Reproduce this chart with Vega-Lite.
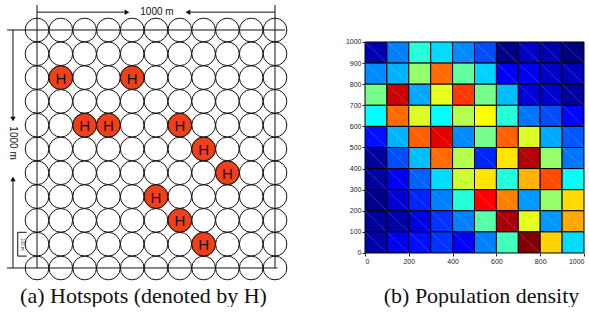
{
  "$schema": "https://vega.github.io/schema/vega-lite/v6.json",
  "padding": 0,
  "background": "white",
  "spacing": 50,
  "config": {"view": {"stroke": null}},
  "datasets": {
    "circles": [
      {"x":0,"y":0},{"x":100,"y":0},{"x":200,"y":0},{"x":300,"y":0},{"x":400,"y":0},{"x":500,"y":0},{"x":600,"y":0},{"x":700,"y":0},{"x":800,"y":0},{"x":900,"y":0},{"x":1000,"y":0},
      {"x":0,"y":100},{"x":100,"y":100},{"x":200,"y":100},{"x":300,"y":100},{"x":400,"y":100},{"x":500,"y":100},{"x":600,"y":100},{"x":700,"y":100},{"x":800,"y":100},{"x":900,"y":100},{"x":1000,"y":100},
      {"x":0,"y":200},{"x":100,"y":200},{"x":200,"y":200},{"x":300,"y":200},{"x":400,"y":200},{"x":500,"y":200},{"x":600,"y":200},{"x":700,"y":200},{"x":800,"y":200},{"x":900,"y":200},{"x":1000,"y":200},
      {"x":0,"y":300},{"x":100,"y":300},{"x":200,"y":300},{"x":300,"y":300},{"x":400,"y":300},{"x":500,"y":300},{"x":600,"y":300},{"x":700,"y":300},{"x":800,"y":300},{"x":900,"y":300},{"x":1000,"y":300},
      {"x":0,"y":400},{"x":100,"y":400},{"x":200,"y":400},{"x":300,"y":400},{"x":400,"y":400},{"x":500,"y":400},{"x":600,"y":400},{"x":700,"y":400},{"x":800,"y":400},{"x":900,"y":400},{"x":1000,"y":400},
      {"x":0,"y":500},{"x":100,"y":500},{"x":200,"y":500},{"x":300,"y":500},{"x":400,"y":500},{"x":500,"y":500},{"x":600,"y":500},{"x":700,"y":500},{"x":800,"y":500},{"x":900,"y":500},{"x":1000,"y":500},
      {"x":0,"y":600},{"x":100,"y":600},{"x":200,"y":600},{"x":300,"y":600},{"x":400,"y":600},{"x":500,"y":600},{"x":600,"y":600},{"x":700,"y":600},{"x":800,"y":600},{"x":900,"y":600},{"x":1000,"y":600},
      {"x":0,"y":700},{"x":100,"y":700},{"x":200,"y":700},{"x":300,"y":700},{"x":400,"y":700},{"x":500,"y":700},{"x":600,"y":700},{"x":700,"y":700},{"x":800,"y":700},{"x":900,"y":700},{"x":1000,"y":700},
      {"x":0,"y":800},{"x":100,"y":800},{"x":200,"y":800},{"x":300,"y":800},{"x":400,"y":800},{"x":500,"y":800},{"x":600,"y":800},{"x":700,"y":800},{"x":800,"y":800},{"x":900,"y":800},{"x":1000,"y":800},
      {"x":0,"y":900},{"x":100,"y":900},{"x":200,"y":900},{"x":300,"y":900},{"x":400,"y":900},{"x":500,"y":900},{"x":600,"y":900},{"x":700,"y":900},{"x":800,"y":900},{"x":900,"y":900},{"x":1000,"y":900},
      {"x":0,"y":1000},{"x":100,"y":1000},{"x":200,"y":1000},{"x":300,"y":1000},{"x":400,"y":1000},{"x":500,"y":1000},{"x":600,"y":1000},{"x":700,"y":1000},{"x":800,"y":1000},{"x":900,"y":1000},{"x":1000,"y":1000}
    ],
    "hotspots": [
      {"x":100,"y":800,"label":"H"},{"x":400,"y":800,"label":"H"},
      {"x":200,"y":600,"label":"H"},{"x":300,"y":600,"label":"H"},{"x":600,"y":600,"label":"H"},
      {"x":700,"y":500,"label":"H"},{"x":800,"y":400,"label":"H"},{"x":500,"y":300,"label":"H"},
      {"x":600,"y":200,"label":"H"},{"x":700,"y":100,"label":"H"}
    ],
    "lines": [
      {"x":-126,"x2":1042,"y":1000,"y2":1000},
      {"x":-126,"x2":1010,"y":0,"y2":0},
      {"x":0,"x2":0,"y":0,"y2":1105},
      {"x":1000,"x2":1000,"y":0,"y2":1105},
      {"x":0,"x2":378,"y":1075,"y2":1075},
      {"x":634,"x2":1000,"y":1075,"y2":1075},
      {"x":-101,"x2":-101,"y":1000,"y2":626},
      {"x":-101,"x2":-101,"y":0,"y2":374},
      {"x":-81,"x2":-81,"y":50,"y2":150},
      {"x":-81,"x2":-43,"y":50,"y2":50},
      {"x":-81,"x2":-43,"y":150,"y2":150}
    ],
    "arrows": [
      {"x":378,"y":1075,"dir":"right"},
      {"x":634,"y":1075,"dir":"left"},
      {"x":-101,"y":626,"dir":"down"},
      {"x":-101,"y":374,"dir":"up"}
    ],
    "density": [
      {"x":0,"xe":100,"y":900,"ye":1000,"v":0.05},{"x":100,"xe":200,"y":900,"ye":1000,"v":0.25},{"x":200,"xe":300,"y":900,"ye":1000,"v":0.41},{"x":300,"xe":400,"y":900,"ye":1000,"v":0.34},{"x":400,"xe":500,"y":900,"ye":1000,"v":0.26},{"x":500,"xe":600,"y":900,"ye":1000,"v":0.2},{"x":600,"xe":700,"y":900,"ye":1000,"v":0.01},{"x":700,"xe":800,"y":900,"ye":1000,"v":0.07},{"x":800,"xe":900,"y":900,"ye":1000,"v":0.05},{"x":900,"xe":1000,"y":900,"ye":1000,"v":0.0},
      {"x":0,"xe":100,"y":800,"ye":900,"v":0.26},{"x":100,"xe":200,"y":800,"ye":900,"v":0.3},{"x":200,"xe":300,"y":800,"ye":900,"v":0.52},{"x":300,"xe":400,"y":800,"ye":900,"v":0.77},{"x":400,"xe":500,"y":800,"ye":900,"v":0.47},{"x":500,"xe":600,"y":800,"ye":900,"v":0.33},{"x":600,"xe":700,"y":800,"ye":900,"v":0.12},{"x":700,"xe":800,"y":800,"ye":900,"v":0.11},{"x":800,"xe":900,"y":800,"ye":900,"v":0.07},{"x":900,"xe":1000,"y":800,"ye":900,"v":0.06},
      {"x":0,"xe":100,"y":700,"ye":800,"v":0.49},{"x":100,"xe":200,"y":700,"ye":800,"v":0.925},{"x":200,"xe":300,"y":700,"ye":800,"v":0.29},{"x":300,"xe":400,"y":700,"ye":800,"v":0.6},{"x":400,"xe":500,"y":700,"ye":800,"v":0.82},{"x":500,"xe":600,"y":700,"ye":800,"v":0.49},{"x":600,"xe":700,"y":700,"ye":800,"v":0.31},{"x":700,"xe":800,"y":700,"ye":800,"v":0.09},{"x":800,"xe":900,"y":700,"ye":800,"v":0.08},{"x":900,"xe":1000,"y":700,"ye":800,"v":0.03},
      {"x":0,"xe":100,"y":600,"ye":700,"v":0.375},{"x":100,"xe":200,"y":600,"ye":700,"v":0.77},{"x":200,"xe":300,"y":600,"ye":700,"v":0.59},{"x":300,"xe":400,"y":600,"ye":700,"v":0.375},{"x":400,"xe":500,"y":600,"ye":700,"v":0.55},{"x":500,"xe":600,"y":600,"ye":700,"v":0.625},{"x":600,"xe":700,"y":600,"ye":700,"v":0.41},{"x":700,"xe":800,"y":600,"ye":700,"v":0.24},{"x":800,"xe":900,"y":600,"ye":700,"v":0.2},{"x":900,"xe":1000,"y":600,"ye":700,"v":0.13},
      {"x":0,"xe":100,"y":500,"ye":600,"v":0.14},{"x":100,"xe":200,"y":500,"ye":600,"v":0.3},{"x":200,"xe":300,"y":500,"ye":600,"v":0.78},{"x":300,"xe":400,"y":500,"ye":600,"v":0.9},{"x":400,"xe":500,"y":500,"ye":600,"v":0.26},{"x":500,"xe":600,"y":500,"ye":600,"v":0.49},{"x":600,"xe":700,"y":500,"ye":600,"v":0.78},{"x":700,"xe":800,"y":500,"ye":600,"v":0.59},{"x":800,"xe":900,"y":500,"ye":600,"v":0.29},{"x":900,"xe":1000,"y":500,"ye":600,"v":0.21},
      {"x":0,"xe":100,"y":400,"ye":500,"v":0.03},{"x":100,"xe":200,"y":400,"ye":500,"v":0.2},{"x":200,"xe":300,"y":400,"ye":500,"v":0.31},{"x":300,"xe":400,"y":400,"ye":500,"v":0.77},{"x":400,"xe":500,"y":400,"ye":500,"v":0.55},{"x":500,"xe":600,"y":400,"ye":500,"v":0.16},{"x":600,"xe":700,"y":400,"ye":500,"v":0.65},{"x":700,"xe":800,"y":400,"ye":500,"v":0.95},{"x":800,"xe":900,"y":400,"ye":500,"v":0.52},{"x":900,"xe":1000,"y":400,"ye":500,"v":0.24},
      {"x":0,"xe":100,"y":300,"ye":400,"v":0.03},{"x":100,"xe":200,"y":300,"ye":400,"v":0.11},{"x":200,"xe":300,"y":300,"ye":400,"v":0.22},{"x":300,"xe":400,"y":300,"ye":400,"v":0.34},{"x":400,"xe":500,"y":300,"ye":400,"v":0.575},{"x":500,"xe":600,"y":300,"ye":400,"v":0.65},{"x":600,"xe":700,"y":300,"ye":400,"v":0.41},{"x":700,"xe":800,"y":300,"ye":400,"v":0.7},{"x":800,"xe":900,"y":300,"ye":400,"v":0.8},{"x":900,"xe":1000,"y":300,"ye":400,"v":0.375},
      {"x":0,"xe":100,"y":200,"ye":300,"v":0.01},{"x":100,"xe":200,"y":200,"ye":300,"v":0.08},{"x":200,"xe":300,"y":200,"ye":300,"v":0.16},{"x":300,"xe":400,"y":200,"ye":300,"v":0.25},{"x":400,"xe":500,"y":200,"ye":300,"v":0.41},{"x":500,"xe":600,"y":200,"ye":300,"v":0.875},{"x":600,"xe":700,"y":200,"ye":300,"v":0.75},{"x":700,"xe":800,"y":200,"ye":300,"v":0.275},{"x":800,"xe":900,"y":200,"ye":300,"v":0.52},{"x":900,"xe":1000,"y":200,"ye":300,"v":0.66},
      {"x":0,"xe":100,"y":100,"ye":200,"v":0.03},{"x":100,"xe":200,"y":100,"ye":200,"v":0.04},{"x":200,"xe":300,"y":100,"ye":200,"v":0.09},{"x":300,"xe":400,"y":100,"ye":200,"v":0.175},{"x":400,"xe":500,"y":100,"ye":200,"v":0.25},{"x":500,"xe":600,"y":100,"ye":200,"v":0.46},{"x":600,"xe":700,"y":100,"ye":200,"v":0.96},{"x":700,"xe":800,"y":100,"ye":200,"v":0.6},{"x":800,"xe":900,"y":100,"ye":200,"v":0.275},{"x":900,"xe":1000,"y":100,"ye":200,"v":0.71},
      {"x":0,"xe":100,"y":0,"ye":100,"v":0.04},{"x":100,"xe":200,"y":0,"ye":100,"v":0.11},{"x":200,"xe":300,"y":0,"ye":100,"v":0.14},{"x":300,"xe":400,"y":0,"ye":100,"v":0.175},{"x":400,"xe":500,"y":0,"ye":100,"v":0.125},{"x":500,"xe":600,"y":0,"ye":100,"v":0.25},{"x":600,"xe":700,"y":0,"ye":100,"v":0.44},{"x":700,"xe":800,"y":0,"ye":100,"v":1.0},{"x":800,"xe":900,"y":0,"ye":100,"v":0.67},{"x":900,"xe":1000,"y":0,"ye":100,"v":0.34}
    ]
  },
  "hconcat": [
    {
      "width": 295,
      "height": 285,
      "title": {"text": "(a)  Hotspots (denoted by H)", "orient": "bottom", "font": "Liberation Serif", "fontSize": 22, "fontWeight": "normal", "color": "#111", "offset": 1, "dx": -4},
      "encoding": {
        "x": {"field": "x", "type": "quantitative", "scale": {"domain": [-155.5, 1084], "nice": false, "zero": false}, "axis": null},
        "y": {"field": "y", "type": "quantitative", "scale": {"domain": [-71.5, 1126], "nice": false, "zero": false}, "axis": null}
      },
      "layer": [
        {
          "data": {"name": "lines"},
          "mark": {"type": "rule", "color": "#111", "strokeWidth": 1},
          "encoding": {"x2": {"field": "x2"}, "y2": {"field": "y2"}}
        },
        {
          "data": {"name": "circles"},
          "mark": {"type": "point", "shape": "circle", "filled": false, "size": 560, "stroke": "#111", "strokeWidth": 1, "opacity": 1}
        },
        {
          "data": {"name": "hotspots"},
          "mark": {"type": "point", "shape": "circle", "filled": true, "size": 560, "fill": "#f0401a", "stroke": "#111", "strokeWidth": 1, "opacity": 1}
        },
        {
          "data": {"name": "hotspots"},
          "mark": {"type": "text", "font": "Liberation Sans", "fontSize": 15, "color": "#111", "baseline": "middle", "align": "center", "dy": 1},
          "encoding": {"text": {"field": "label"}}
        },
        {
          "data": {"name": "arrows"},
          "mark": {"type": "point", "filled": true, "size": 30, "color": "#111", "opacity": 1},
          "encoding": {"shape": {"field": "dir", "type": "nominal", "scale": {"domain": ["right", "left", "down", "up"], "range": ["triangle-right", "triangle-left", "triangle-down", "triangle-up"]}, "legend": null}}
        },
        {
          "data": {"values": [{"x": 504, "y": 1075, "t": "1000 m"}]},
          "mark": {"type": "text", "font": "Liberation Sans", "fontSize": 10, "color": "#111", "baseline": "middle", "align": "center"},
          "encoding": {"text": {"field": "t"}}
        },
        {
          "data": {"values": [{"x": -101, "y": 525, "t": "1000 m"}]},
          "mark": {"type": "text", "font": "Liberation Sans", "fontSize": 10, "color": "#111", "baseline": "middle", "align": "center", "angle": 90},
          "encoding": {"text": {"field": "t"}}
        },
        {
          "data": {"values": [{"x": -65, "y": 100, "t": "100 m"}]},
          "mark": {"type": "text", "font": "Liberation Sans", "fontSize": 4.5, "color": "#111", "baseline": "middle", "align": "center", "angle": 90},
          "encoding": {"text": {"field": "t"}}
        }
      ]
    },
    {
      "width": 219,
      "height": 285,
      "title": {"text": "(b)  Population density", "orient": "bottom", "font": "Liberation Serif", "fontSize": 22, "fontWeight": "normal", "color": "#111", "offset": 1, "dx": 7},
      "data": {"name": "density"},
      "encoding": {
        "x": {"field": "x", "type": "quantitative", "scale": {"domain": [0, 1000], "nice": false, "zero": false},
              "axis": {"values": [0, 200, 400, 600, 800, 1000], "format": "d", "offset": -32, "domain": false, "grid": false, "title": null, "labelFont": "Liberation Sans", "labelFontSize": 7, "labelColor": "#222", "tickColor": "#222", "tickSize": 3, "labelPadding": 1, "labelFlush": true, "labelOverlap": false}},
        "y": {"field": "y", "type": "quantitative", "scale": {"domain": [-151.7, 1199], "nice": false, "zero": false},
              "axis": {"values": [0, 100, 200, 300, 400, 500, 600, 700, 800, 900, 1000], "format": "d", "domain": false, "grid": false, "title": null, "labelFont": "Liberation Sans", "labelFontSize": 7, "labelColor": "#222", "tickColor": "#222", "tickSize": 3, "labelPadding": 1, "labelOverlap": false}}
      },
      "layer": [
        {
          "mark": {"type": "rect", "stroke": "#000", "strokeWidth": 1},
          "encoding": {
            "x2": {"field": "xe"},
            "y2": {"field": "ye"},
            "color": {"field": "v", "type": "quantitative", "scale": {"domain": [0, 0.125, 0.375, 0.625, 0.875, 1], "range": ["#00007f", "#0000ff", "#00ffff", "#ffff00", "#ff0000", "#7f0000"], "interpolate": "rgb"}, "legend": null}
          }
        },
        {
          "mark": {"type": "rule", "color": "white", "strokeWidth": 0.6, "opacity": 0.3},
          "encoding": {
            "y": {"field": "ye", "type": "quantitative"},
            "x2": {"field": "xe"},
            "y2": {"field": "y"}
          }
        }
      ]
    }
  ]
}
